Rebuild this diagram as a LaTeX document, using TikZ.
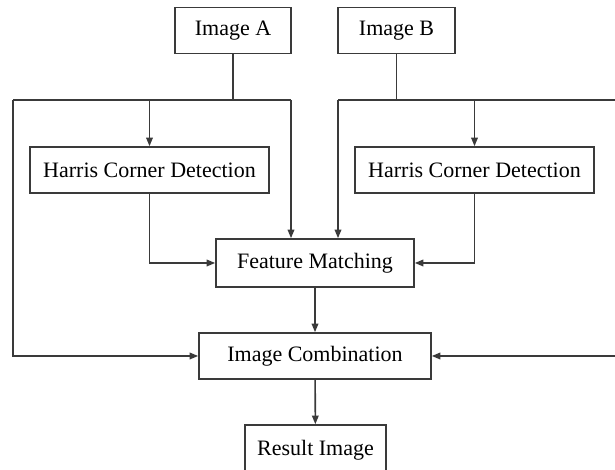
\documentclass[tikz,border=0pt]{standalone}
\usepackage{fontspec}
\setmainfont{Liberation Serif}
\usetikzlibrary{arrows.meta,calc}
\definecolor{flline}{HTML}{3A3A3A}
\tikzset{
  blk/.style = {rectangle, draw=flline, line width=1.2pt, fill=white,
                inner sep=0pt, font=\fontsize{16.5}{19}\selectfont},
  ln/.style  = {draw=flline, line width=1.2pt},
  ar/.style  = {-{Triangle[length=6.5pt,width=5pt]}, draw=flline, line width=1.2pt},
}

\begin{document}
\begin{tikzpicture}[x=0.75pt,y=-0.75pt]
  \useasboundingbox (0,0) rectangle (615,470);
  % boxes
  \node[blk,minimum width=87pt,minimum height=34.5pt] (imgA) at (233,30.5) {Image A};
  \node[blk,minimum width=87.75pt,minimum height=34.5pt] (imgB) at (396.5,30.5) {Image B};
  \node[blk,minimum width=179.25pt,minimum height=34.5pt] (harA) at (149.5,170) {Harris Corner Detection};
  \node[blk,minimum width=179.25pt,minimum height=34.5pt] (harB) at (474.5,170) {Harris Corner Detection};
  \node[blk,minimum width=148.5pt,minimum height=36pt] (match) at (315,263) {Feature Matching};
  \node[blk,minimum width=174pt,minimum height=34.5pt] (comb) at (315,356) {Image Combination};
  \node[blk,minimum width=105.75pt,minimum height=37.5pt] (res) at (315.5,450) {Result Image};
  % junctions
  \coordinate (jA) at (233,100);
  \coordinate (jAl) at (13,100);
  \coordinate (jAr) at (291,100);
  \coordinate (jB) at (396.5,100);
  \coordinate (jBl) at (338,100);
  \coordinate (jBr) at (616,100);
  % connectors
  \foreach \a/\b in {imgA/jA, imgB/jB}{
    \draw[ln] (\a.south) -- (\b);
  }
  \draw[ln] (jAl) -- (jAr);
  \draw[ln] (jBl) -- (jBr);
  \foreach \j/\h in {jA/harA, jB/harB}{
    \draw[ar] (\h.north |- \j) -- (\h.north);
  }
  \foreach \j in {jAr, jBl}{
    \draw[ar] (\j) -- (\j |- match.north);
  }
  \draw[ar] (harA.south) |- (match.west);
  \draw[ar] (harB.south) |- (match.east);
  \draw[ar] (jAl) |- (comb.west);
  \draw[ar] (jBr) |- (comb.east);
  \draw[ar] (match) -- (comb);
  \draw[ar] (comb) -- (res);
\end{tikzpicture}
\end{document}
